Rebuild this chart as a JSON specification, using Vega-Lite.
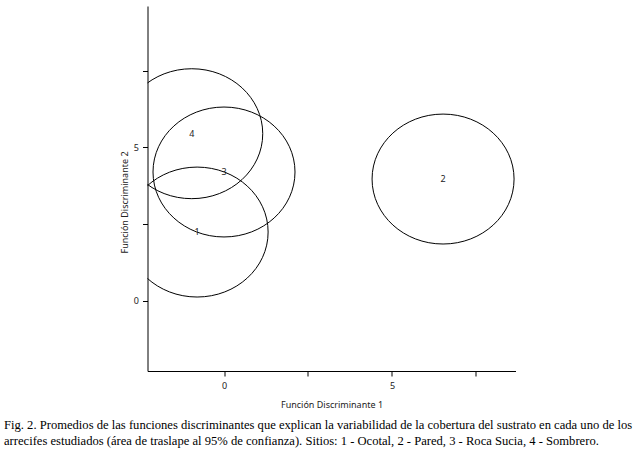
{
  "$schema": "https://vega.github.io/schema/vega-lite/v6.json",
  "width": 368,
  "height": 365,
  "autosize": {"type": "none"},
  "padding": {"left": 147.5, "top": 6, "right": 121.5, "bottom": 80},
  "background": "white",
  "config": {
    "view": {"stroke": null},
    "axis": {
      "grid": false,
      "domainColor": "black",
      "domainWidth": 1,
      "tickColor": "black",
      "tickSize": 5,
      "tickWidth": 1,
      "labelFont": "Noto Sans",
      "labelFontSize": 9,
      "labelColor": "#222",
      "titleFont": "Noto Sans",
      "titleFontSize": 9,
      "titleFontWeight": "normal",
      "titleColor": "#222"
    }
  },
  "title": {
    "text": [
      "Fig. 2. Promedios de las funciones discriminantes que explican la variabilidad de la cobertura del sustrato en cada uno de los",
      "arrecifes estudiados (área de traslape al 95% de confianza). Sitios: 1 - Ocotal, 2 - Pared, 3 - Roca Sucia, 4 - Sombrero."
    ],
    "orient": "bottom",
    "anchor": "start",
    "frame": "group",
    "dx": -143.5,
    "offset": 10,
    "font": "Liberation Serif",
    "fontSize": 12.6,
    "fontWeight": "normal",
    "color": "black",
    "lineHeight": 16
  },
  "data": {
    "values": [
      {"sitio": "1", "f1": -0.8, "f2": 2.24},
      {"sitio": "2", "f1": 6.52, "f2": 3.97},
      {"sitio": "3", "f1": 0.0, "f2": 4.2},
      {"sitio": "4", "f1": -0.96, "f2": 5.45}
    ]
  },
  "encoding": {
    "x": {
      "field": "f1",
      "type": "quantitative",
      "scale": {"domain": [-2.277, 8.676], "nice": false, "zero": false},
      "axis": {
        "values": [0, 2.5, 5, 7.5],
        "labelExpr": "datum.value % 5 == 0 ? datum.label : ''",
        "labelPadding": 5,
        "title": "Función Discriminante 1",
        "titlePadding": 10
      }
    },
    "y": {
      "field": "f2",
      "type": "quantitative",
      "scale": {"domain": [-2.295, 9.618], "nice": false, "zero": false},
      "axis": {
        "values": [0, 2.5, 5, 7.5],
        "labelExpr": "datum.value % 5 == 0 ? datum.label : ''",
        "labelPadding": 4,
        "title": "Función Discriminante 2",
        "titlePadding": 4,
        "titleY": 196
      }
    }
  },
  "layer": [
    {
      "mark": {
        "type": "point",
        "shape": "M-1,0A1,0.915 0 1,1 1,0A1,0.915 0 1,1 -1,0Z",
        "size": 20164,
        "filled": false,
        "stroke": "black",
        "strokeWidth": 1,
        "opacity": 1,
        "clip": true
      }
    },
    {
      "mark": {"type": "text", "font": "Noto Sans", "fontSize": 9, "color": "#222"},
      "encoding": {"text": {"field": "sitio"}}
    }
  ]
}
